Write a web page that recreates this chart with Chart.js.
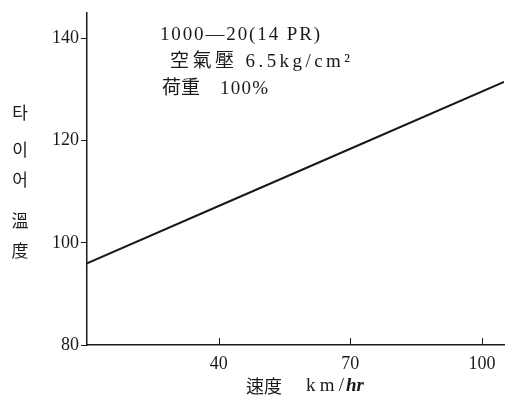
<!DOCTYPE html>
<html lang="ko">
<head>
<meta charset="UTF-8">
<title>타이어 溫度</title>
<script src="https://cdn.jsdelivr.net/npm/chart.js"></script>
<style>
  html, body { margin: 0; padding: 0; background: #fff; }
  #wrap { width: 512px; height: 401px; position: relative; }
</style>
</head>
<body>
<div id="wrap"><canvas id="tireChart"></canvas></div>
<script>
// data
const speeds = [10, 40, 70, 105];
const temps = [96, 107.2, 118.4, 131.5];
const xTicks = [40, 70, 100];
const yTicks = [80, 100, 120, 140];
const notes = ['1000—20(14 PR)', '空氣壓 6.5kg/cm²', '荷重', '100%'];
const yTitle = ['타', '이', '어', '溫', '度'];

const serif = '"Liberation Serif", "Noto Sans CJK KR", serif';
const ink = '#1a1a1a';

// draw a string spread out to a given width (the scan is set loose)
function spread(ctx, str, x, y, w) {
  ctx.letterSpacing = '0px';
  const m = ctx.measureText(str).width;
  const n = [...str].length;
  ctx.letterSpacing = Math.max(0, n > 1 ? (w - m) / (n - 1) : 0) + 'px';
  ctx.fillText(str, x, y);
  ctx.letterSpacing = '0px';
}

// x ticks point up into the plot, and the free text
const extras = {
  id: 'extras',
  afterDraw(chart) {
    const ctx = chart.ctx;
    const x = chart.scales.x, y = chart.scales.y;
    ctx.save();
    ctx.strokeStyle = ink;
    ctx.lineWidth = 1;
    xTicks.forEach(v => {
      const px = Math.round(x.getPixelForValue(v)) + 0.5;
      ctx.beginPath();
      ctx.moveTo(px, y.bottom);
      ctx.lineTo(px, y.bottom - 7);
      ctx.stroke();
    });

    ctx.fillStyle = ink;
    ctx.textBaseline = 'middle';
    ctx.textAlign = 'left';
    ctx.font = '19px ' + serif;
    spread(ctx, notes[0], 160, 35, 160);
    spread(ctx, notes[1], 170, 62, 180);
    spread(ctx, notes[2], 162, 89, 36);
    spread(ctx, notes[3], 220, 89, 48);

    ctx.textAlign = 'center';
    ctx.font = '17px "Noto Sans CJK KR", sans-serif';
    const ys = [113, 150, 180, 221, 251];
    yTitle.forEach((c, i) => ctx.fillText(c, 20, ys[i]));

    ctx.textAlign = 'left';
    ctx.font = '18px "Noto Sans CJK KR", sans-serif';
    spread(ctx, '速度', 246, 386, 36);
    ctx.font = '19px ' + serif;
    spread(ctx, 'km/', 306, 386, 38);
    ctx.font = 'italic bold 19px ' + serif;
    spread(ctx, 'hr', 346, 386, 18);
    ctx.restore();
  }
};

new Chart(document.getElementById('tireChart'), {
  type: 'line',
  data: {
    datasets: [{
      data: speeds.map((s, i) => ({ x: s, y: temps[i] })),
      borderColor: ink,
      borderWidth: 2,
      pointRadius: 0,
      tension: 0
    }]
  },
  options: {
    responsive: true,
    maintainAspectRatio: false,
    animation: false,
    layout: { padding: { top: 10, right: 8, left: 0, bottom: 0 } },
    plugins: { legend: { display: false }, tooltip: { enabled: false } },
    scales: {
      x: {
        type: 'linear',
        min: 10,
        max: 105,
        afterFit: s => { s.height = 56; },
        afterBuildTicks: s => { s.ticks = xTicks.map(v => ({ value: v })); },
        border: { color: ink, width: 1.5 },
        grid: { display: false, drawTicks: false },
        ticks: { color: ink, font: { family: serif, size: 18 }, padding: 8 }
      },
      y: {
        min: 80,
        max: 145,
        afterFit: s => { s.width = 87; },
        afterBuildTicks: s => { s.ticks = yTicks.map(v => ({ value: v })); },
        border: { color: ink, width: 1.5 },
        grid: { drawOnChartArea: false, tickLength: 6, color: ink },
        ticks: { color: ink, font: { family: serif, size: 18 }, padding: 2 }
      }
    }
  },
  plugins: [extras]
});
</script>
</body>
</html>
